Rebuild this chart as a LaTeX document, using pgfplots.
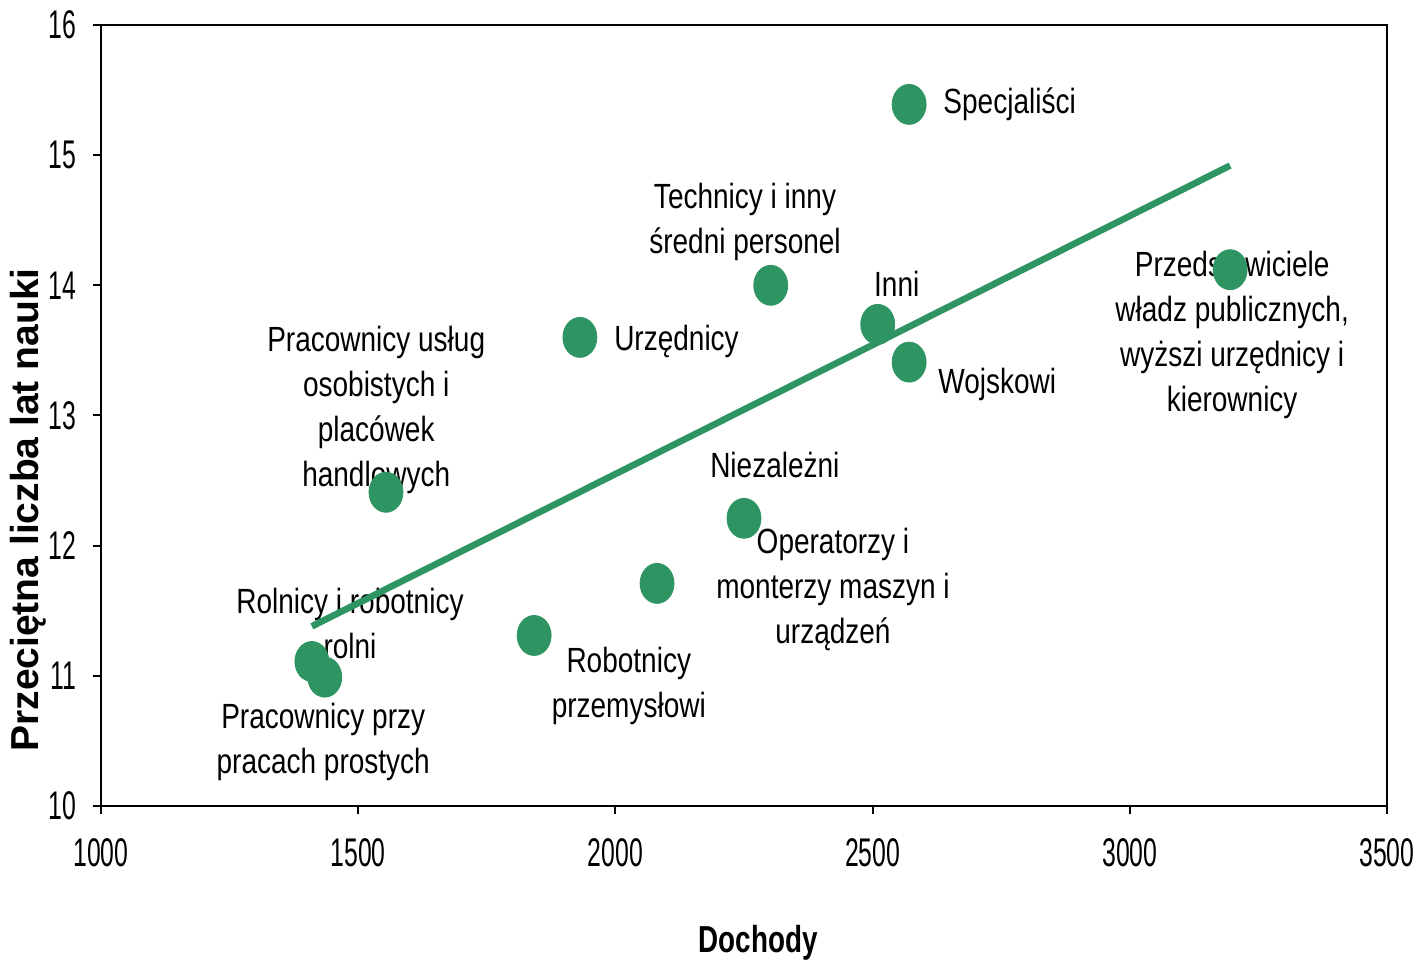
\documentclass[border=0pt]{standalone}
\usepackage{fontspec}
\setmainfont{Liberation Sans}[FakeStretch=0.8]
\newfontfamily\tickfont{Liberation Sans}[FakeStretch=0.62]
\newfontfamily\xlabfont{Liberation Sans}[FakeStretch=0.74]
\newfontfamily\ylabfont{Liberation Sans}
\usepackage{pgfplots}
\pgfplotsset{compat=1.18}
\definecolor{ptgreen}{RGB}{46,148,98}
\begin{document}
\begin{tikzpicture}
\path[use as bounding box] (-50.5pt,-78.5pt) rectangle (659.5pt,403pt);
\begin{axis}[
  scale only axis, width=643pt, height=390.5pt,
  at={(0,0)}, anchor=south west,
  xmin=1000, xmax=3500, ymin=10, ymax=16,
  xtick={1000,1500,2000,2500,3000,3500},
  ytick={10,11,12,13,14,15,16},
  xtick pos=left, ytick pos=left,
  tick align=outside, major tick length=4pt,
  axis line style={line width=1pt, black},
  tick style={line width=1pt, black},
  ticklabel style={font=\tickfont\fontsize{20}{20}\selectfont},
  xticklabel style={yshift=-9pt},
  yticklabel style={xshift=-5pt},
  /pgf/number format/assume math mode=true,
  /pgf/number format/1000 sep={},
  scaled ticks=false,
  clip=false,
  xlabel={Dochody},
  ylabel={Przeciętna liczba lat nauki},
  xlabel style={font=\xlabfont\bfseries\fontsize{18.8}{20}\selectfont, at={(axis description cs:0.511,0)}, anchor=center, yshift=-68.5pt},
  ylabel style={font=\ylabfont\bfseries\fontsize{19.5}{20}\selectfont, at={(axis description cs:0,0.379)}, anchor=center, rotate=0, yshift=36.5pt},
]
\addplot[only marks, mark=*, mark size=10pt, color=ptgreen, mark options={xscale=0.85, draw=none, fill=ptgreen}]
  coordinates {
  (2571,15.39) (3195,14.12) (2302,14.00) (1931,13.60) (2510,13.70) (2571,13.41)
  (1554,12.41) (2250,12.21) (2081,11.71) (1842,11.31) (1410,11.11) (1435,10.99)
  };
\begin{scope}[every node/.style={align=center, font=\fontsize{17.5}{22.5}\selectfont, inner sep=0pt}]
\node[anchor=west] at (axis cs:2637,15.39) {Specjaliści};
\node at (axis cs:2252,14.49) {Technicy i inny\\średni personel};
\node at (axis cs:3199,13.62) {Przedstawiciele\\władz publicznych,\\wyższi urzędnicy i\\kierownicy};
\node at (axis cs:2547,14.01) {Inni};
\node[anchor=west] at (axis cs:1997,13.57) {Urzędnicy};
\node[anchor=west] at (axis cs:2627,13.24) {Wojskowi};
\node at (axis cs:1535,13.04) {Pracownicy usług\\osobistych i\\placówek\\handlowych};
\node at (axis cs:2310,12.62) {Niezależni};
\node at (axis cs:2423,11.66) {Operatorzy i\\monterzy maszyn i\\urządzeń};
\node at (axis cs:1484,11.40) {Rolnicy i robotnicy\\rolni};
\node at (axis cs:2026,10.92) {Robotnicy\\przemysłowi};
\node at (axis cs:1432,10.49) {Pracownicy przy\\pracach prostych};
\end{scope}
\addplot[color=ptgreen, line width=3.3pt, no marks] coordinates {(1410,11.38) (3195,14.92)};
\end{axis}
\end{tikzpicture}
\end{document}
